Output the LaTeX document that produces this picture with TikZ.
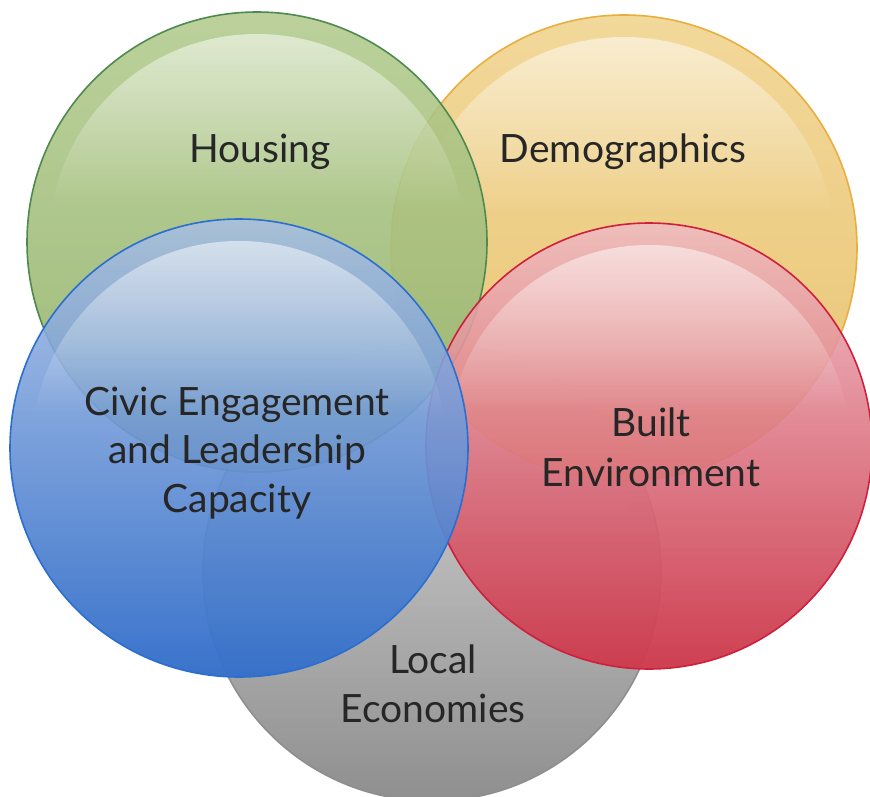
\documentclass[tikz,border=0pt]{standalone}
\usepackage{fontspec}
\setmainfont{Lato}
\usetikzlibrary{fadings}

\definecolor{grtop}{HTML}{B0C98A}
\definecolor{grbot}{HTML}{98B672}
\definecolor{grline}{HTML}{4E8A50}
\definecolor{yetop}{HTML}{F0D28A}
\definecolor{yebot}{HTML}{E8C06A}
\definecolor{yeline}{HTML}{E8AE3E}
\definecolor{bltop}{HTML}{A9C0E6}
\definecolor{blbot}{HTML}{2464C6}
\definecolor{blline}{HTML}{2A6ED0}
\definecolor{retop}{HTML}{F0BCC4}
\definecolor{rebot}{HTML}{C8283C}
\definecolor{reline}{HTML}{CF1F3C}
\definecolor{gytop}{HTML}{D6D6D6}
\definecolor{gybot}{HTML}{828282}
\definecolor{gyline}{HTML}{8E8E8E}

\tikzfading[name=gloss, top color=transparent!40, bottom color=transparent!100]
\tikzfading[name=lower, top color=transparent!100, bottom color=transparent!0]

% ball: name, x, y, r, top, bottom, line
\newcommand{\ball}[7]{%
  \coordinate (#1) at (#2,#3);
  \fill[#5, fill opacity=.85] (#1) circle[radius=#4];
  \fill[#6, fill opacity=.85, path fading=lower] (#1) circle[radius=#4];
  \begin{scope}
    \clip (#1) circle[radius=#4-22];
    \fill[white, path fading=gloss] (#2-#4,#3-#4) rectangle (#2+#4,#3-0.15*#4);
  \end{scope}
  \draw[#7, line width=1.6pt] (#1) circle[radius=#4];
}

\begin{document}
\begin{tikzpicture}[x=1pt,y=-1pt,every node/.style={anchor=base,text=black!85,font=\fontsize{39}{49}\selectfont}]
\useasboundingbox (0,0) rectangle (870,797);

\ball{local}{432}{572}{229}{gytop}{gybot}{gyline}
\ball{demo}{624}{248}{233}{yetop}{yebot}{yeline}
\ball{housing}{257}{242}{230}{grtop}{grbot}{grline}
\ball{built}{649}{446}{223}{retop}{rebot}{reline}
\ball{civic}{239}{448}{229}{bltop}{blbot}{blline}

\node (housingA) at (260,163) {Housing};
\node (demoA) at (623,163) {Demographics};
\node (civicA) at (237,415) {Civic Engagement};
\node (civicB) at (237,463) {and Leadership};
\node (civicC) at (237,512) {Capacity};
\node (builtA) at (651,436) {Built};
\node (builtB) at (651,486) {Environment};
\node (localA) at (433,673) {Local};
\node (localB) at (433,722) {Economies};

\end{tikzpicture}
\end{document}
